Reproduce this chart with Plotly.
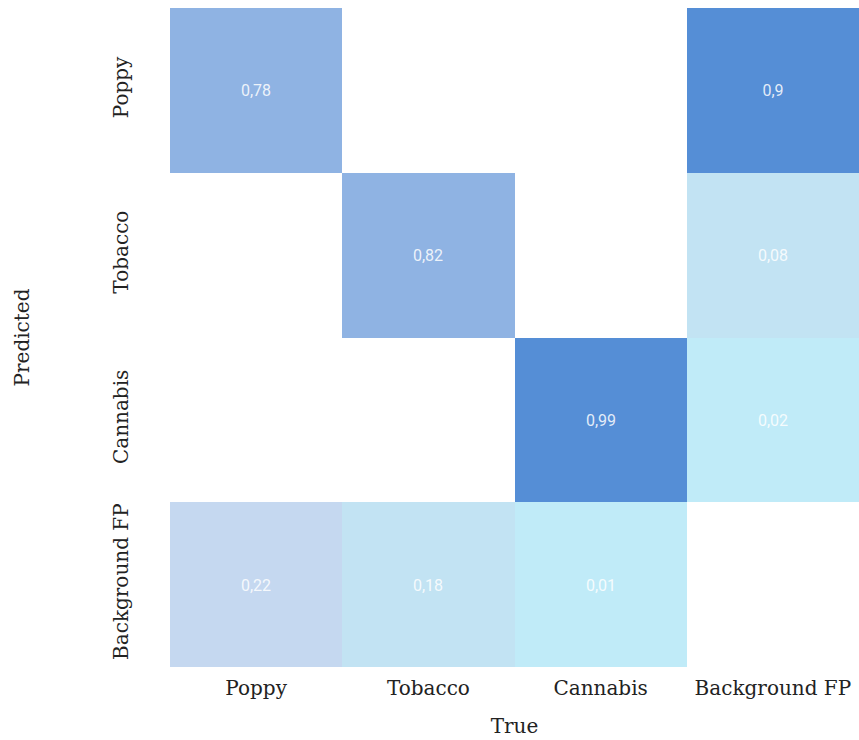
import plotly.graph_objects as go

# Confusion matrix: rows = predicted, columns = true
true_labels = ["Poppy", "Tobacco", "Cannabis", "Background FP"]
pred_labels = ["Poppy", "Tobacco", "Cannabis", "Background FP"]

row_poppy = [0.78, None, None, 0.9]
row_tobacco = [None, 0.82, None, 0.08]
row_cannabis = [None, None, 0.99, 0.02]
row_background = [0.22, 0.18, 0.01, None]

z = [row_poppy, row_tobacco, row_cannabis, row_background]
text = [["" if v is None else str(v).replace(".", ",") for v in row] for row in z]

colorscale = [
    [0.0, "#c0ebf8"],
    [0.04, "#c0ebf8"],
    [0.08, "#c2e3f3"],
    [0.19, "#c2e3f3"],
    [0.22, "#c5d8f0"],
    [0.78, "#8fb3e3"],
    [0.84, "#8fb3e3"],
    [0.9, "#558ed6"],
    [1.0, "#558ed6"],
]

fig = go.Figure(go.Heatmap(
    z=z,
    x=true_labels,
    y=pred_labels,
    text=text,
    texttemplate="%{text}",
    textfont=dict(family="Roboto, sans-serif", size=16, color="rgba(255,255,255,0.85)"),
    colorscale=colorscale,
    zmin=0, zmax=1,
    showscale=False,
))

serif = dict(family="DejaVu Serif", size=20, color="#222")
fig.update_xaxes(title_text="True", showgrid=False, zeroline=False,
                 tickfont=serif, title_font=serif,
                 ticks="", ticklabelstandoff=7, title_standoff=19)
fig.update_yaxes(title_text="Predicted", autorange="reversed", showgrid=False, zeroline=False,
                 tickangle=-90, tickfont=serif, title_font=serif,
                 ticks="", ticklabelstandoff=37, title_standoff=74)

fig.update_layout(width=859, height=740,
                  margin=dict(l=170, r=0, t=8, b=73),
                  plot_bgcolor="white", paper_bgcolor="white")

fig.write_html("out.html", config={"displayModeBar": False},
               post_script="document.body.style.margin='0';document.body.style.overflow='hidden';")
